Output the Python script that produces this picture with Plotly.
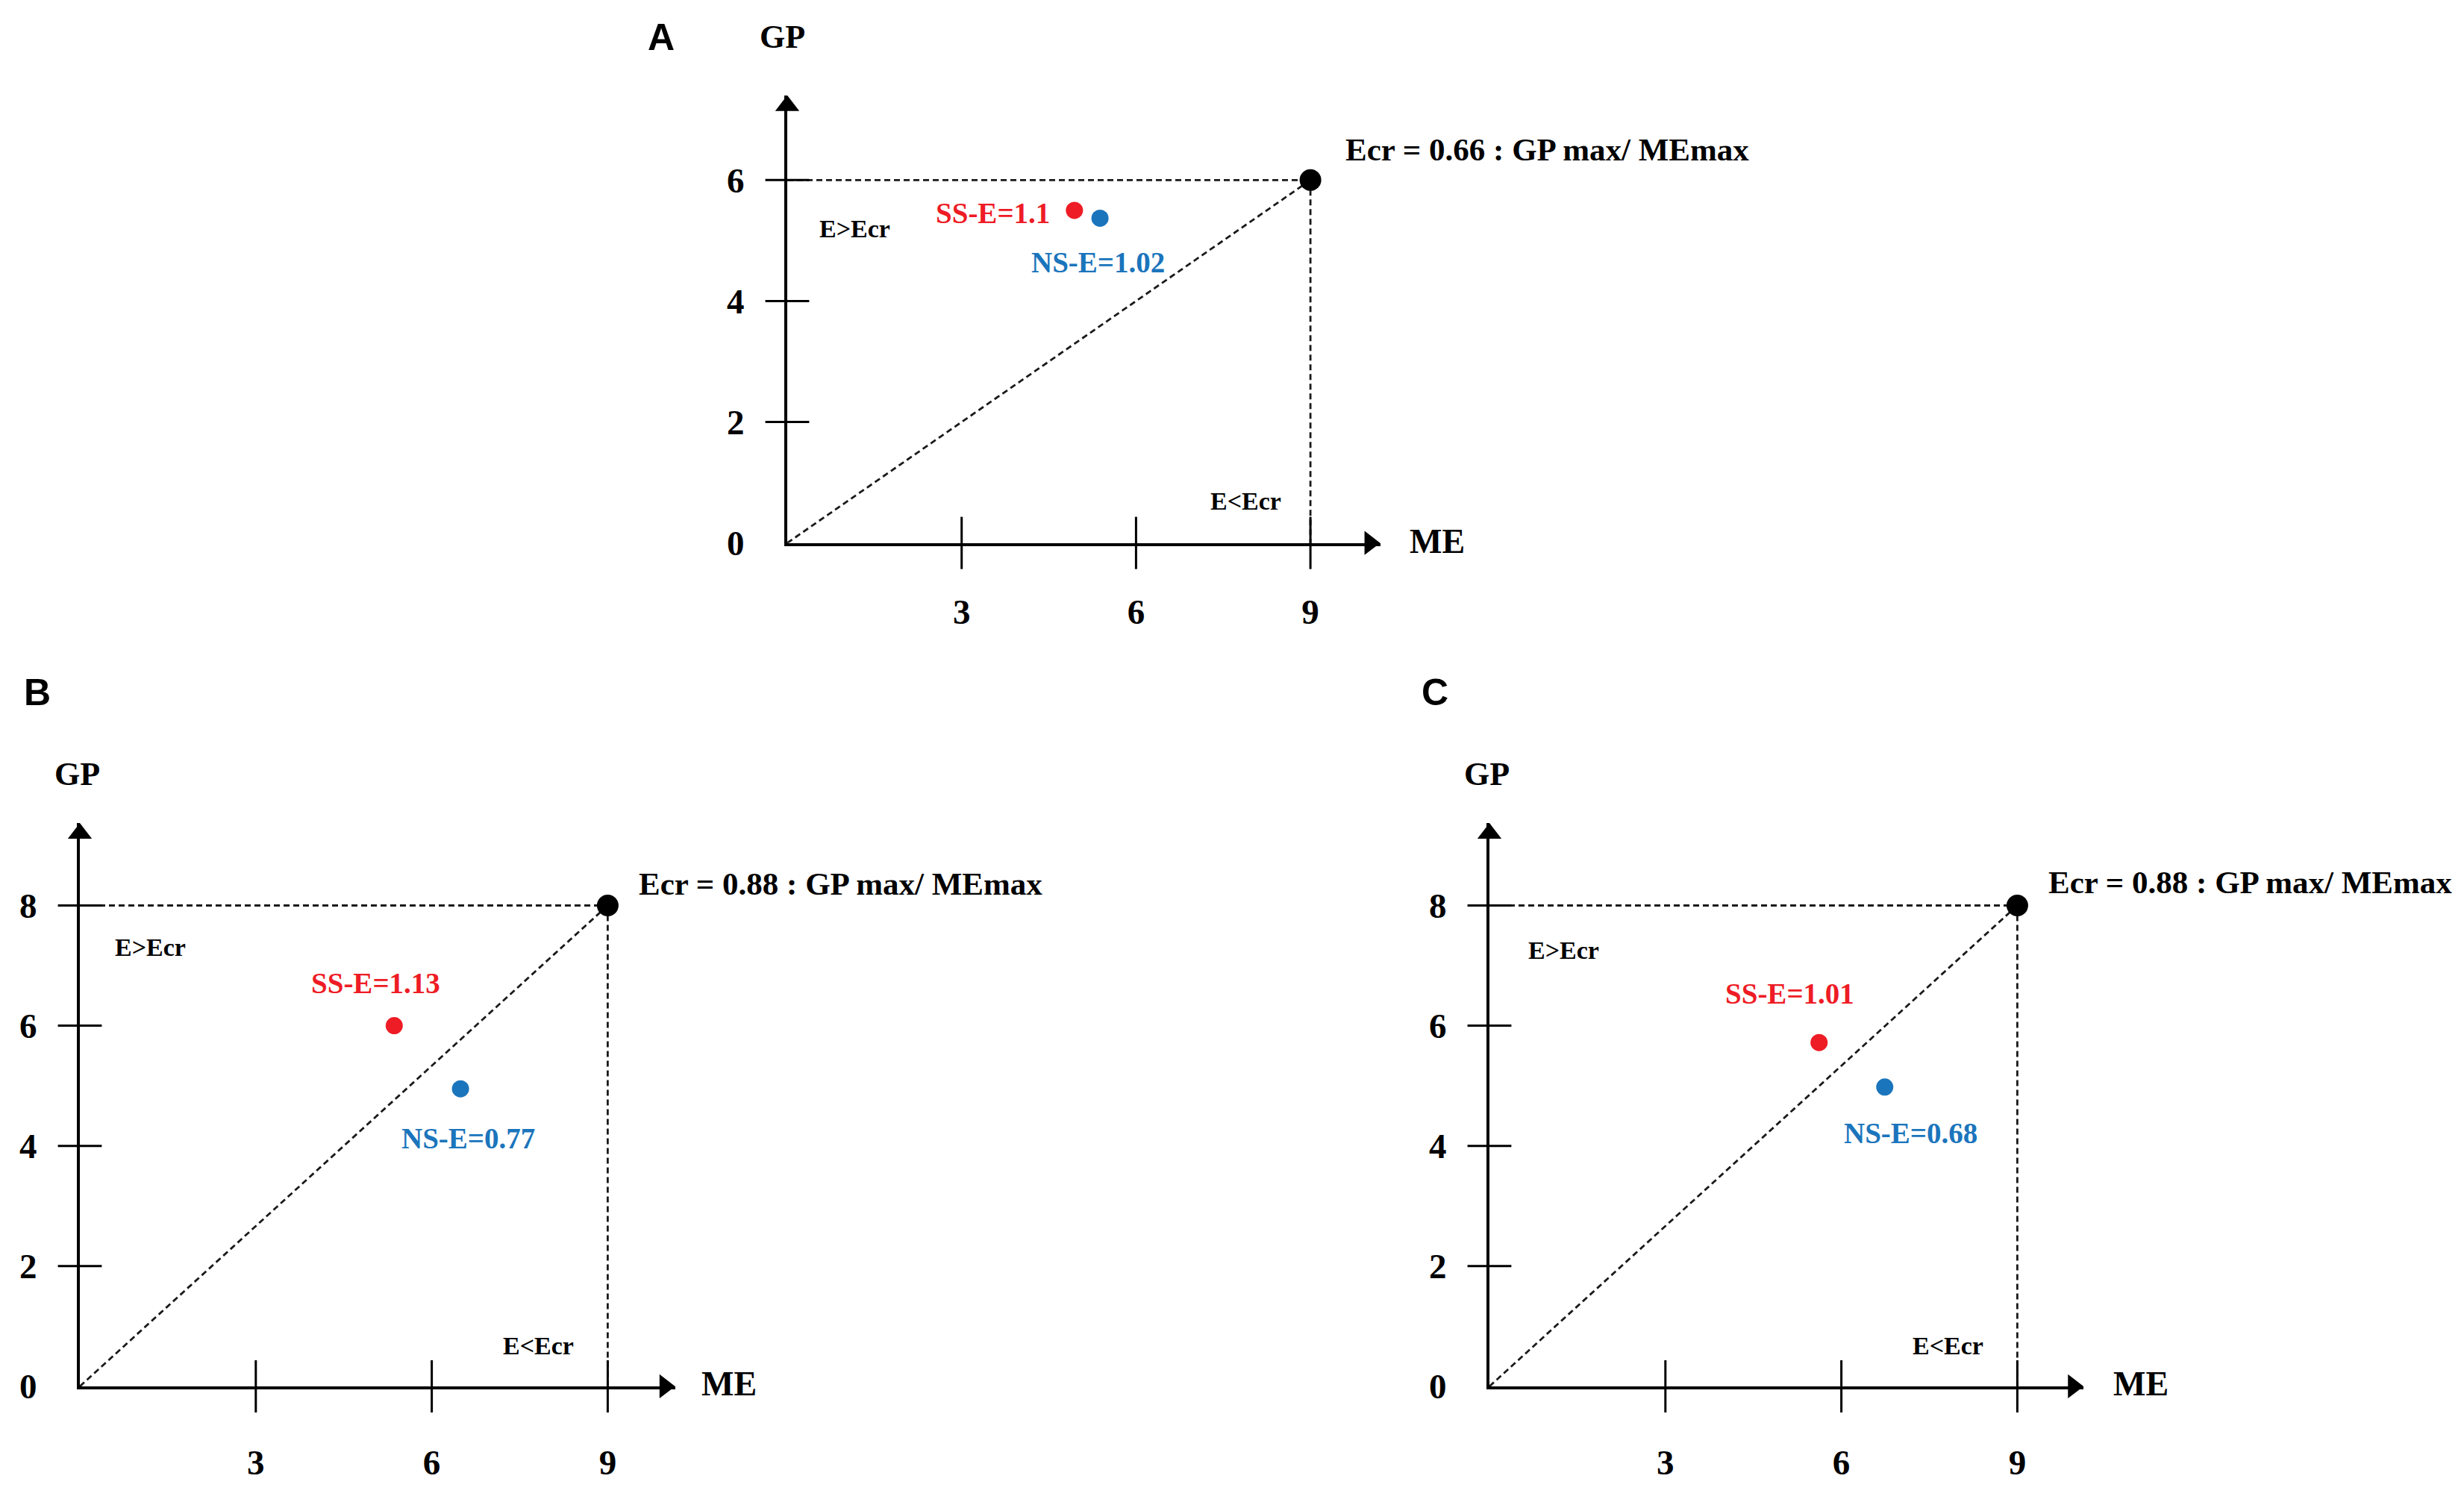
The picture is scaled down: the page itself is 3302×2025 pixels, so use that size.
import plotly.graph_objects as go

W, H = 3302, 2025

# values (A, B, C)
panel_names = ["A", "B", "C"]
me_max = [9, 9, 9]
gp_max = [6, 8, 8]
ecr_text = ["0.66", "0.88", "0.88"]
ss_me = [4.94, 5.36, 5.62]
ss_gp = [5.5, 6.0, 5.72]
ss_e = ["1.1", "1.13", "1.01"]
ns_me = [5.38, 6.49, 6.74]
ns_gp = [5.37, 4.95, 4.98]
ns_e = ["1.02", "0.77", "0.68"]
x_ticks = [3, 6, 9]
y_ticks = [[0, 2, 4, 6], [0, 2, 4, 6, 8], [0, 2, 4, 6, 8]]

RED = "#ee1c25"
BLUE = "#1b75bc"
SERIF = "Liberation Serif"

# pixel geometry of each panel: origin, px per unit, axis end (arrow tip), label gap
geom = [
    dict(ox=1047, oy=729, ux=77.9, uy=82.1, xhi=10.2, yhi=7.4, xstand=48),
    dict(ox=99, oy=1874, ux=78.6, uy=81.6, xhi=10.15, yhi=9.37, xstand=58),
    dict(ox=1988, oy=1874, ux=78.6, uy=81.6, xhi=10.13, yhi=9.37, xstand=58),
]

# text placement inside each panel (data units)
label_pos = [
    dict(ss=(4.55, 5.45, "right"), ns=(5.35, 4.64, "center"), gt=(1.16, 5.2), lt=(7.89, 0.69),
         ecr=(9.57, 6.51)),
    dict(ss=(5.04, 6.71, "center"), ns=(6.62, 4.13, "center"), gt=(1.2, 7.3), lt=(7.82, 0.67),
         ecr=(9.51, 8.36)),
    dict(ss=(5.12, 6.53, "center"), ns=(7.18, 4.21, "center"), gt=(1.26, 7.25), lt=(7.82, 0.67),
         ecr=(9.50, 8.39)),
]
# axis titles and panel letters (paper units)
gp_pos = [(0.3150, 0.979), (0.029, 0.485), (0.601, 0.485)]
me_pos = [(0.569, 0.641), (0.2815, 0.0765), (0.8545, 0.0765)]
letter_pos = [(0.266, 0.979), (0.0128, 0.540), (0.580, 0.540)]

fig = go.Figure()
annotations = []
layout_axes = {}

for i in range(3):
    g = geom[i]
    sfx = "" if i == 0 else str(i + 1)
    xr, yr = "x" + sfx, "y" + sfx
    gm, mm = gp_max[i], me_max[i]

    # reference lines to the max point
    dash = dict(color="#1a1a1a", width=2.8, dash="8px,5px")
    fig.add_trace(go.Scatter(x=[0, mm], y=[gm, gm], mode="lines", line=dash,
                             xaxis=xr, yaxis=yr, cliponaxis=False, hoverinfo="skip"))
    fig.add_trace(go.Scatter(x=[mm, mm], y=[gm, 0], mode="lines", line=dash,
                             xaxis=xr, yaxis=yr, cliponaxis=False, hoverinfo="skip"))
    fig.add_trace(go.Scatter(x=[0, mm], y=[0, gm], mode="lines", line=dash,
                             xaxis=xr, yaxis=yr, cliponaxis=False, hoverinfo="skip"))

    # tick marks crossing the axes
    fig.add_trace(go.Scatter(x=x_ticks, y=[0] * len(x_ticks), mode="markers",
                             marker=dict(symbol="line-ns", size=50,
                                         line=dict(color="black", width=3)),
                             xaxis=xr, yaxis=yr, cliponaxis=False, hoverinfo="skip"))
    yt = [v for v in y_ticks[i] if v > 0]
    fig.add_trace(go.Scatter(x=[0] * len(yt), y=yt, mode="markers",
                             marker=dict(symbol="line-ew", size=42,
                                         line=dict(color="black", width=3)),
                             xaxis=xr, yaxis=yr, cliponaxis=False, hoverinfo="skip"))

    # arrow heads
    fig.add_trace(go.Scatter(x=[g["xhi"] - 14 / g["ux"]], y=[0], mode="markers",
                             marker=dict(symbol="triangle-right", size=28, color="black"),
                             xaxis=xr, yaxis=yr, cliponaxis=False, hoverinfo="skip"))
    fig.add_trace(go.Scatter(x=[0], y=[g["yhi"] - 14 / g["uy"]], mode="markers",
                             marker=dict(symbol="triangle-up", size=28, color="black"),
                             xaxis=xr, yaxis=yr, cliponaxis=False, hoverinfo="skip"))

    # points
    fig.add_trace(go.Scatter(x=[mm], y=[gm], mode="markers",
                             marker=dict(size=29, color="black"),
                             xaxis=xr, yaxis=yr, cliponaxis=False, hoverinfo="skip"))
    fig.add_trace(go.Scatter(x=[ss_me[i]], y=[ss_gp[i]], mode="markers",
                             marker=dict(size=23, color=RED),
                             xaxis=xr, yaxis=yr, cliponaxis=False, hoverinfo="skip"))
    fig.add_trace(go.Scatter(x=[ns_me[i]], y=[ns_gp[i]], mode="markers",
                             marker=dict(size=23, color=BLUE),
                             xaxis=xr, yaxis=yr, cliponaxis=False, hoverinfo="skip"))

    axfont = dict(family=SERIF, size=47, color="black", weight="bold")
    layout_axes["xaxis" + sfx] = dict(
        domain=[g["ox"] / W, (g["ox"] + g["xhi"] * g["ux"]) / W],
        range=[0, g["xhi"]], anchor=yr, showline=True, linewidth=4, linecolor="black",
        showgrid=False, zeroline=False, ticks="", tickvals=x_ticks,
        tickfont=axfont, ticklabelstandoff=g["xstand"], fixedrange=True)
    layout_axes["yaxis" + sfx] = dict(
        domain=[1 - g["oy"] / H, 1 - (g["oy"] - g["yhi"] * g["uy"]) / H],
        range=[0, g["yhi"]], anchor=xr, showline=True, linewidth=4, linecolor="black",
        showgrid=False, zeroline=False, ticks="", tickvals=y_ticks[i],
        tickfont=axfont, ticklabelstandoff=44, fixedrange=True)

    lp = label_pos[i]
    base = dict(xref=xr, yref=yr, showarrow=False, yanchor="middle")
    paper = dict(xref="paper", yref="paper", showarrow=False, yanchor="middle")
    annotations += [
        dict(base, x=lp["ss"][0], y=lp["ss"][1], xanchor=lp["ss"][2],
             text="SS-E=" + ss_e[i], font=dict(family=SERIF, size=39, color=RED, weight="bold")),
        dict(base, x=lp["ns"][0], y=lp["ns"][1], xanchor=lp["ns"][2],
             text="NS-E=" + ns_e[i], font=dict(family=SERIF, size=39, color=BLUE, weight="bold")),
        dict(base, x=lp["gt"][0], y=lp["gt"][1], xanchor="center", text="E&gt;Ecr",
             font=dict(family=SERIF, size=34, color="black", weight="bold")),
        dict(base, x=lp["lt"][0], y=lp["lt"][1], xanchor="center", text="E&lt;Ecr",
             font=dict(family=SERIF, size=34, color="black", weight="bold")),
        dict(base, x=lp["ecr"][0], y=lp["ecr"][1], xanchor="left",
             text="Ecr = " + ecr_text[i] + " : GP max/ MEmax",
             font=dict(family=SERIF, size=43, color="black", weight="bold")),
        dict(paper, x=gp_pos[i][0], y=gp_pos[i][1], xanchor="center", text="GP",
             font=dict(family=SERIF, size=44, color="black", weight="bold")),
        dict(paper, x=me_pos[i][0], y=me_pos[i][1], xanchor="left", text="ME",
             font=dict(family=SERIF, size=46, color="black", weight="bold")),
        dict(paper, x=letter_pos[i][0], y=letter_pos[i][1], xanchor="center",
             text=panel_names[i],
             font=dict(family="Liberation Sans", size=50, color="black", weight="bold")),
    ]

fig.update_layout(
    width=W, height=H,
    margin=dict(l=0, r=0, t=0, b=0),
    paper_bgcolor="white", plot_bgcolor="white",
    showlegend=False,
    annotations=annotations,
    **layout_axes,
)

fig.write_html("out.html")
